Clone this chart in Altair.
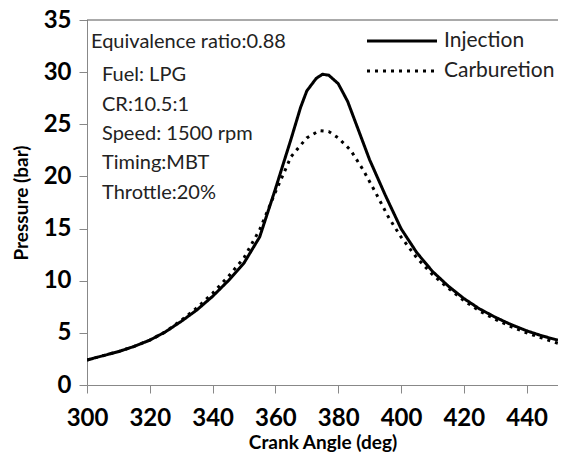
import altair as alt
import pandas as pd

inj_angle = [300, 305, 310, 315, 320, 325, 330, 335, 340, 345, 350, 355, 360, 365, 368, 370, 373, 375, 377, 380, 383, 386, 390, 395, 400, 405, 410, 415, 420, 425, 430, 435, 440, 445, 450]
inj_p = [2.4, 2.8, 3.2, 3.7, 4.3, 5.1, 6.1, 7.2, 8.5, 10.0, 11.7, 14.2, 18.8, 23.6, 26.6, 28.2, 29.4, 29.8, 29.7, 28.9, 27.2, 24.8, 21.6, 18.2, 15.0, 12.7, 10.9, 9.5, 8.3, 7.3, 6.5, 5.8, 5.2, 4.7, 4.3]

carb_angle = [300, 305, 310, 315, 320, 325, 330, 335, 340, 345, 350, 355, 360, 365, 370, 374, 377, 380, 384, 388, 392, 396, 400, 405, 410, 415, 420, 425, 430, 435, 440, 445, 450]
carb_p = [2.4, 2.8, 3.2, 3.7, 4.3, 5.1, 6.2, 7.4, 8.8, 10.4, 12.2, 14.9, 18.5, 21.9, 23.7, 24.4, 24.3, 23.7, 22.5, 20.6, 18.4, 16.1, 14.2, 12.2, 10.6, 9.3, 8.1, 7.1, 6.3, 5.6, 5.0, 4.5, 4.0]

series_names = ["Injection", "Carburetion"]
notes = ["Equivalence ratio:0.88", "Fuel: LPG", "CR:10.5:1", "Speed: 1500 rpm", "Timing:MBT", "Throttle:20%"]

FONT = "Lato"
W, H = 471, 365
DASHES = [[1, 0], [3, 5]]

df = pd.concat([
    pd.DataFrame({"angle": inj_angle, "p": inj_p, "series": series_names[0]}),
    pd.DataFrame({"angle": carb_angle, "p": carb_p, "series": series_names[1]}),
])

dash_scale = alt.Scale(domain=series_names, range=DASHES)

lines = alt.Chart(df).mark_line(strokeWidth=3, color="black", clip=True).encode(
    x=alt.X("angle:Q", scale=alt.Scale(domain=[300, 450], nice=False),
            axis=alt.Axis(title="Crank Angle (deg)", values=list(range(300, 451, 20)))),
    y=alt.Y("p:Q", scale=alt.Scale(domain=[0, 35], nice=False),
            axis=alt.Axis(title="Pressure (bar)", values=list(range(0, 36, 5)))),
    strokeDash=alt.StrokeDash("series:N", scale=dash_scale, legend=None),
    detail="series:N",
)

top_border = alt.Chart(pd.DataFrame({"a": [0]})).mark_rule(color="#555", strokeWidth=1).encode(
    x=alt.value(0), x2=alt.value(W), y=alt.value(0)
)

# manual legend
leg_df = pd.DataFrame({"series": series_names, "ly": [21, 51]})
leg_lines = alt.Chart(leg_df).mark_rule(strokeWidth=3, color="black").encode(
    x=alt.value(280), x2=alt.value(350), y=alt.Y("ly:Q", scale=None),
    strokeDash=alt.StrokeDash("series:N", scale=dash_scale, legend=None),
)
leg_text = alt.Chart(leg_df).mark_text(align="left", baseline="middle", font=FONT, fontSize=21, color="#222").encode(
    x=alt.value(357), y=alt.Y("ly:Q", scale=None), text="series:N"
)

note_df = pd.DataFrame({"t": notes})
note_df["x"] = [4, 15, 15, 15, 15, 15]
note_df["y"] = [22, 55, 85, 114, 143, 173]
text = alt.Chart(note_df).mark_text(align="left", baseline="middle", font=FONT, fontSize=20, color="#222").encode(
    x=alt.X("x:Q", scale=None), y=alt.Y("y:Q", scale=None), text="t:N"
)

chart = alt.layer(lines, top_border, leg_lines, leg_text, text).properties(
    width=W, height=H, padding={"left": 79, "top": 12, "right": 0, "bottom": 68},
    autosize=alt.AutoSizeParams(type="none"),
).configure_view(stroke=None).configure_axis(
    grid=False, domainColor="#888", tickColor="#888", tickSize=8, labelOverlap=False,
    labelFont=FONT, labelFontSize=24, labelFontWeight="bold", labelColor="black",
    titleFont=FONT, titleFontSize=19, titleFontWeight="bold", titleColor="black",
).configure_axisX(labelPadding=13, titlePadding=3, labelFlush=False).configure_axisY(labelPadding=8, titlePadding=12, labelFlush=False)

chart.save("out.html", embed_options={"renderer": "svg", "actions": False})
